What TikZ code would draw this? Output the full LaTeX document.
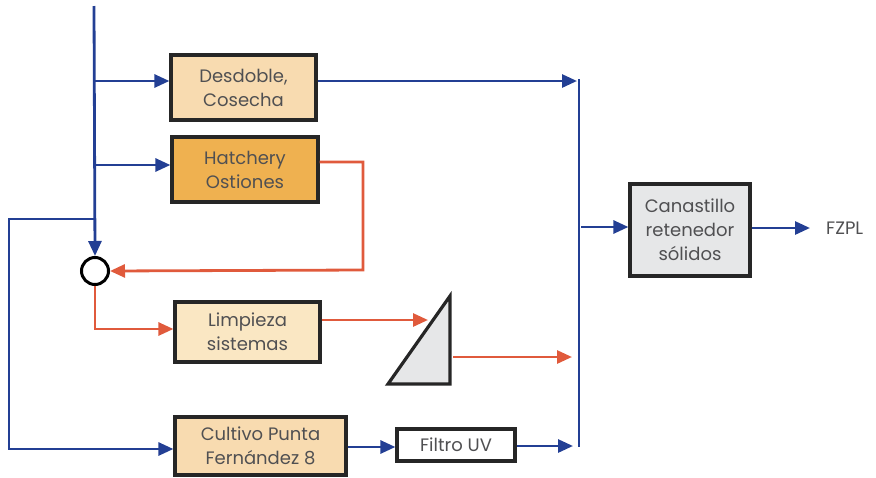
\documentclass[tikz,border=0pt]{standalone}
\usepackage{fontspec}
\setmainfont{Poppins}
\usetikzlibrary{arrows.meta}
\definecolor{azul}{HTML}{233F94}
\definecolor{rojo}{HTML}{E05A3C}
\definecolor{durazno}{HTML}{F8DBB0}
\definecolor{naranja}{HTML}{EFB150}
\definecolor{crema}{HTML}{FAE7C3}
\definecolor{gris}{HTML}{E6E7E8}
\definecolor{texto}{HTML}{505052}
\begin{document}
\begin{tikzpicture}[x=1pt,y=-1pt,
    caja/.style={draw=black!85,line width=3.2pt,align=center,text=texto,
      font=\fontsize{18}{24}\selectfont,inner sep=0pt},
    flujo/.style={draw=azul,line width=2.8pt},
    flujor/.style={draw=rojo,line width=2.8pt},
    punta/.style={-{Triangle[length=15pt,width=13pt]}}]
  \useasboundingbox (0,0) rectangle (876,477);
  % cajas
  \node[caja,fill=durazno,minimum width=145pt,minimum height=65pt] (desdoble) at (243.5,87.5) {Desdoble,\\Cosecha};
  \node[caja,fill=naranja,minimum width=146pt,minimum height=65pt] (hatchery) at (245,169.5) {Hatchery\\Ostiones};
  \node[caja,fill=crema,minimum width=145pt,minimum height=60pt] (limpieza) at (247.5,332) {Limpieza\\sistemas};
  \node[caja,fill=durazno,minimum width=171pt,minimum height=58pt] (cultivo) at (260.5,446) {Cultivo Punta\\Fernández 8};
  \node[caja,fill=white,minimum width=118pt,minimum height=32pt] (filtro) at (456,445) {Filtro UV};
  \node[caja,fill=gris,minimum width=120pt,minimum height=92pt] (canastillo) at (690,230) {Canastillo\\retenedor\\sólidos};
  \node[circle,draw=black,line width=3pt,minimum size=27pt,inner sep=0pt] (mezcla) at (95,271) {};
  \node[anchor=west,text=texto,font=\fontsize{18}{24}\selectfont,inner sep=0pt] (fzpl) at (826,228) {FZPL};
  % sedimentador
  \filldraw[fill=gris,draw=black!85,line width=3.2pt] (388,384) -- (450,296) -- (450,384) -- cycle;
  \coordinate (sedin) at (428,320);
  \coordinate (colarriba) at (579,79);
  \coordinate (colabajo) at (579,447);
  % alimentacion
  \draw[flujo,punta] (94,6) -- (mezcla.north);
  \draw[flujo,punta] (94,81) -- (desdoble.west|-0,81);
  \draw[flujo,punta] (94,165) -- (hatchery.west|-0,165);
  \draw[flujo,punta] (95,219) -- (9,219) -- (9,449) -- (cultivo.west|-0,449);
  % recirculacion
  \draw[flujor,punta] (hatchery.east|-0,162) -- (363,162) -- (363,270) -- (mezcla.east);
  \draw[flujor,punta] (mezcla.south) |- (limpieza.west|-0,329);
  \draw[flujor,punta] (limpieza.east|-0,320) -- (sedin);
  \draw[flujor,punta] (453,357) -- (572,357);
  % colector
  \draw[flujo] (colarriba) -- (colabajo);
  \draw[flujo,punta] (desdoble.east|-0,81) -- (577,81);
  \draw[flujo,punta] (cultivo.east|-0,447) -- (filtro.west|-0,447);
  \draw[flujo,punta] (filtro.east|-0,446) -- (573,446);
  \draw[flujo,punta] (581,227) -- (canastillo.west|-0,227);
  \draw[flujo,punta] (canastillo.east|-0,228) -- (810,228);
\end{tikzpicture}
\end{document}
